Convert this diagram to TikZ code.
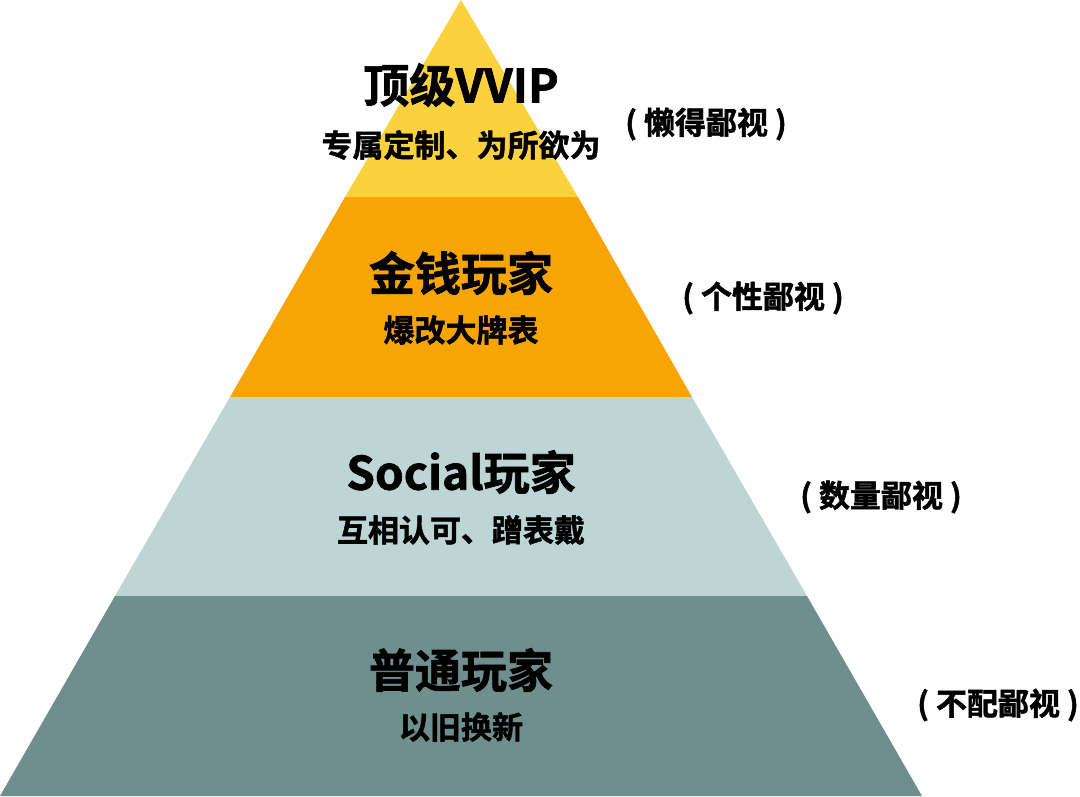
\documentclass[tikz,border=0pt]{standalone}
\usepackage{fontspec}
\newfontfamily\cjk[FakeBold=1.5]{Noto Sans CJK SC Bold}
\definecolor{c1}{HTML}{FBD23E}
\definecolor{c2}{HTML}{F6A503}
\definecolor{c3}{HTML}{BDD6D5}
\definecolor{c4}{HTML}{6F8F8E}
\tikzset{ttl/.style={font=\cjk\fontsize{46}{48}\selectfont,text=black,inner sep=0},
sub/.style={font=\cjk\fontsize{31}{33}\selectfont,text=black,inner sep=0},
side/.style={font=\cjk\fontsize{31}{33}\selectfont,text=black,inner sep=0}}
\begin{document}
\begin{tikzpicture}[x=1pt,y=-1pt]
\useasboundingbox (0,0) rectangle (1080,796);
\fill[c1] (461,0) -- (578,197) -- (345,197) -- cycle;
\fill[c2] (345,197) -- (578,197) -- (692,397) -- (230,397) -- cycle;
\fill[c3] (230,397) -- (692,397) -- (807,596) -- (115,596) -- cycle;
\fill[c4] (115,596) -- (807,596) -- (922,796) -- (0,796) -- cycle;
\node[ttl] (t1) at (461,85) {顶级VVIP};
\node[sub] (s1) at (461,145) {专属定制、为所欲为};
\node[ttl] (t2) at (461,273) {金钱玩家};
\node[sub] (s2) at (461,330) {爆改大牌表};
\node[ttl] (t3) at (461,472) {Social玩家};
\node[sub] (s3) at (461,530) {互相认可、蹭表戴};
\node[ttl] (t4) at (461,670) {普通玩家};
\node[sub] (s4) at (461,727) {以旧换新};
\node[side] (l1) at (706,124) {( 懒得鄙视 )};
\node[side] (l2) at (763,298) {( 个性鄙视 )};
\node[side] (l3) at (881,497) {( 数量鄙视 )};
\node[side] (l4) at (998,705) {( 不配鄙视 )};
\end{tikzpicture}
\end{document}
